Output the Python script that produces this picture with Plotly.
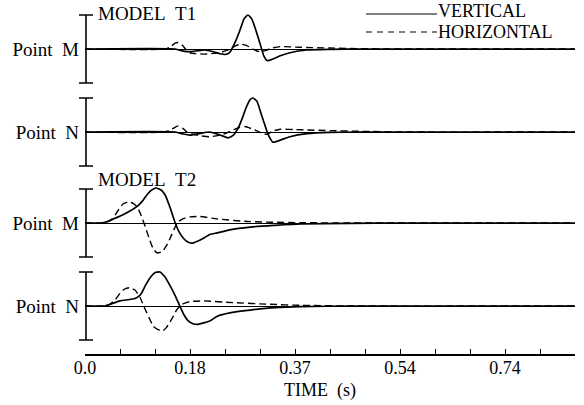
import plotly.graph_objects as go

# ---------------- data (time in s, amplitude in bar units: bar = +/-1) ----------------
T1_M_V_t = [0.0, 0.159, 0.173, 0.185, 0.199, 0.211, 0.226, 0.238, 0.248, 0.255, 0.264, 0.273, 0.280, 0.287, 0.294, 0.301, 0.308, 0.315, 0.321, 0.330, 0.344, 0.361, 0.391, 0.432, 0.485, 0.863]
T1_M_V   = [0.0, 0.0, -0.06, -0.08, -0.05, -0.03, -0.08, -0.14, -0.16, -0.10, 0.18, 0.55, 0.88, 1.0, 0.88, 0.55, 0.18, -0.20, -0.34, -0.30, -0.20, -0.11, -0.03, -0.01, 0.0, 0.0]
T1_M_H_t = [0.0, 0.141, 0.150, 0.159, 0.164, 0.171, 0.178, 0.185, 0.199, 0.211, 0.226, 0.241, 0.255, 0.266, 0.275, 0.285, 0.298, 0.308, 0.319, 0.330, 0.344, 0.379, 0.432, 0.485, 0.540, 0.863]
T1_M_H   = [0.0, 0.0, 0.06, 0.17, 0.19, 0.12, -0.02, -0.11, -0.14, -0.15, -0.13, -0.09, -0.01, 0.10, 0.14, 0.10, -0.02, -0.08, -0.04, 0.03, 0.07, 0.05, 0.03, 0.01, 0.0, 0.0]

T1_N_V_t = [0.0, 0.159, 0.173, 0.185, 0.203, 0.220, 0.238, 0.252, 0.261, 0.270, 0.277, 0.284, 0.291, 0.296, 0.303, 0.310, 0.317, 0.322, 0.331, 0.344, 0.361, 0.391, 0.432, 0.485, 0.863]
T1_N_V   = [0.0, 0.0, -0.06, -0.09, -0.04, 0.0, -0.09, -0.17, -0.10, 0.12, 0.40, 0.72, 0.95, 1.0, 0.90, 0.55, 0.20, -0.05, -0.30, -0.24, -0.14, -0.05, -0.01, 0.0, 0.0]
T1_N_H_t = [0.0, 0.141, 0.153, 0.164, 0.173, 0.180, 0.189, 0.203, 0.220, 0.243, 0.261, 0.273, 0.282, 0.293, 0.303, 0.314, 0.321, 0.331, 0.344, 0.370, 0.391, 0.432, 0.485, 0.555, 0.863]
T1_N_H   = [0.0, 0.0, 0.08, 0.18, 0.10, -0.01, -0.06, -0.11, -0.14, -0.07, 0.06, 0.14, 0.16, 0.10, 0.03, -0.05, -0.07, 0.03, 0.08, 0.07, 0.06, 0.04, 0.02, 0.0, 0.0]

T2_M_V_t = [0.0, 0.030, 0.041, 0.053, 0.067, 0.079, 0.092, 0.100, 0.107, 0.116, 0.125, 0.134, 0.141, 0.150, 0.159, 0.166, 0.173, 0.181, 0.189, 0.203, 0.220, 0.233, 0.255, 0.291, 0.335, 0.379, 0.467, 0.555, 0.863]
T2_M_V   = [0.0, 0.0, 0.05, 0.14, 0.24, 0.35, 0.49, 0.62, 0.78, 0.95, 1.03, 0.97, 0.83, 0.45, 0.0, -0.27, -0.44, -0.56, -0.59, -0.50, -0.34, -0.29, -0.20, -0.12, -0.07, -0.03, -0.01, 0.0, 0.0]
T2_M_H_t = [0.0, 0.030, 0.041, 0.049, 0.058, 0.067, 0.076, 0.085, 0.092, 0.099, 0.106, 0.113, 0.120, 0.127, 0.136, 0.143, 0.150, 0.157, 0.164, 0.173, 0.185, 0.203, 0.233, 0.291, 0.379, 0.467, 0.863]
T2_M_H   = [0.0, 0.0, 0.05, 0.13, 0.36, 0.56, 0.62, 0.58, 0.47, 0.22, -0.10, -0.45, -0.75, -0.88, -0.84, -0.68, -0.45, -0.18, 0.03, 0.13, 0.18, 0.19, 0.12, 0.04, 0.01, 0.0, 0.0]

T2_N_V_t = [0.0, 0.035, 0.044, 0.062, 0.088, 0.097, 0.100, 0.107, 0.115, 0.123, 0.132, 0.141, 0.150, 0.159, 0.167, 0.174, 0.181, 0.190, 0.199, 0.220, 0.233, 0.255, 0.291, 0.335, 0.379, 0.467, 0.863]
T2_N_V   = [0.0, 0.0, 0.05, 0.15, 0.22, 0.32, 0.39, 0.62, 0.84, 0.98, 1.0, 0.85, 0.59, 0.30, 0.0, -0.25, -0.42, -0.52, -0.54, -0.44, -0.30, -0.20, -0.12, -0.05, -0.02, 0.0, 0.0]
T2_N_H_t = [0.0, 0.035, 0.044, 0.053, 0.062, 0.070, 0.079, 0.088, 0.097, 0.106, 0.115, 0.120, 0.127, 0.136, 0.144, 0.153, 0.162, 0.171, 0.185, 0.208, 0.261, 0.326, 0.379, 0.467, 0.863]
T2_N_H   = [0.0, 0.0, 0.05, 0.18, 0.38, 0.50, 0.54, 0.47, 0.25, -0.10, -0.42, -0.59, -0.68, -0.74, -0.62, -0.38, -0.10, 0.05, 0.13, 0.15, 0.10, 0.05, 0.02, 0.0, 0.0]

PANEL_LABELS = ["Point\u00a0\u00a0M", "Point\u00a0\u00a0N", "Point\u00a0\u00a0M", "Point\u00a0\u00a0N"]
MODEL_LABELS = ["MODEL\u00a0\u00a0T1", "MODEL\u00a0\u00a0T2"]
LEGEND_LABELS = ["VERTICAL", "HORIZONTAL"]
TICK_VALS = [0.0, 0.185, 0.37, 0.555, 0.74]
TICK_TEXT = ["0.0", "0.18", "0.37", "0.54", "0.74"]
X_MAX = 0.8633
X_TITLE = "TIME\u00a0\u00a0(s)"

# ---------------- layout geometry (pixels) ----------------
W, H = 584, 405
ML, MR, MT, MB = 85, 9, 0, 50
PW, PH = W - ML - MR, H - MT - MB
FONT = "Liberation Serif"
FS = 19
XFS = 18

def px2x(px):
    return (px - ML) / PW

def py2y(py):
    return (H - MB - py) / PH

ZEROS = [49, 132, 223, 306]   # pixel row of each panel's zero line
HALF = 34                      # pixels per unit amplitude
YR = 1.1

series = [
    (T1_M_V_t, T1_M_V, T1_M_H_t, T1_M_H),
    (T1_N_V_t, T1_N_V, T1_N_H_t, T1_N_H),
    (T2_M_V_t, T2_M_V, T2_M_H_t, T2_M_H),
    (T2_N_V_t, T2_N_V, T2_N_H_t, T2_N_H),
]

fig = go.Figure()
layout = dict(
    width=W, height=H,
    margin=dict(l=ML, r=MR, t=MT, b=MB, pad=0),
    paper_bgcolor="white", plot_bgcolor="white",
    showlegend=False,
    font=dict(family=FONT, size=FS, color="black"),
    xaxis=dict(
        range=[0, X_MAX], anchor="free", position=0,
        showline=True, linecolor="black", linewidth=1.5,
        showgrid=False, zeroline=False,
        tickmode="array", tickvals=TICK_VALS, ticktext=TICK_TEXT,
        ticks="inside", ticklen=5, tickwidth=1.2, tickcolor="black",
        minor=dict(dtick=0.185 / 3, tick0=0, ticks="inside", ticklen=5,
                   tickwidth=1.2, tickcolor="black", showgrid=False),
        tickfont=dict(family=FONT, size=XFS, color="black"),
        ticklabelstandoff=-3,
    ),
)

shapes = []
cap = 7  # half cap width in px
for i, (tv, v, th, h) in enumerate(series):
    yname = "y" if i == 0 else f"y{i+1}"
    lname = "yaxis" if i == 0 else f"yaxis{i+1}"
    z = ZEROS[i]
    dom = [py2y(z + HALF * YR), py2y(z - HALF * YR)]
    layout[lname] = dict(
        domain=dom, range=[-YR, YR], anchor="x",
        showgrid=False, showline=False,
        zeroline=True, zerolinecolor="black", zerolinewidth=1,
        tickmode="array", tickvals=[0], ticktext=[PANEL_LABELS[i]],
        ticks="", ticklabelstandoff=5,
        tickfont=dict(family=FONT, size=FS, color="black"),
        fixedrange=True,
    )
    fig.add_trace(go.Scatter(x=th, y=h, xaxis="x", yaxis=yname, mode="lines",
                             line=dict(color="black", width=1.4, dash="7px,4px",
                                       shape="spline", smoothing=0.5),
                             name=LEGEND_LABELS[1]))
    fig.add_trace(go.Scatter(x=tv, y=v, xaxis="x", yaxis=yname, mode="lines",
                             line=dict(color="black", width=1.7,
                                       shape="spline", smoothing=0.5),
                             name=LEGEND_LABELS[0]))
    # I-beam amplitude bar
    shapes.append(dict(type="line", xref="paper", yref=yname,
                       x0=px2x(86), x1=px2x(86), y0=-1, y1=1,
                       line=dict(color="black", width=1.6)))
    for yy in (-1, 1):
        shapes.append(dict(type="line", xref="paper", yref=yname,
                           x0=px2x(86 - cap), x1=px2x(86 + cap), y0=yy, y1=yy,
                           line=dict(color="black", width=1.6)))

# legend drawn manually (long line samples)
shapes.append(dict(type="line", xref="paper", yref="paper",
                   x0=px2x(366), x1=px2x(437), y0=py2y(14), y1=py2y(14),
                   line=dict(color="black", width=1.2)))
shapes.append(dict(type="line", xref="paper", yref="paper",
                   x0=px2x(366), x1=px2x(437), y0=py2y(32), y1=py2y(32),
                   line=dict(color="black", width=1.2, dash="6px,5px")))

LFS = 18
annotations = [
    dict(text=MODEL_LABELS[0], xref="paper", yref="paper", x=px2x(96), y=py2y(14),
         xanchor="left", yanchor="middle", showarrow=False, font=dict(family=FONT, size=FS, color="black")),
    dict(text=MODEL_LABELS[1], xref="paper", yref="paper", x=px2x(96), y=py2y(179),
         xanchor="left", yanchor="middle", showarrow=False, font=dict(family=FONT, size=FS, color="black")),
    dict(text=LEGEND_LABELS[0], xref="paper", yref="paper", x=px2x(437), y=py2y(11.5),
         xanchor="left", yanchor="middle", showarrow=False, borderpad=0,
         font=dict(family=FONT, size=LFS, color="black")),
    dict(text=LEGEND_LABELS[1], xref="paper", yref="paper", x=px2x(437), y=py2y(32),
         xanchor="left", yanchor="middle", showarrow=False, borderpad=0,
         font=dict(family=FONT, size=LFS, color="black")),
    dict(text=X_TITLE, xref="paper", yref="paper", x=px2x(320), y=py2y(390),
         xanchor="center", yanchor="middle", showarrow=False, borderpad=0,
         font=dict(family=FONT, size=XFS, color="black")),
]
layout["shapes"] = shapes
layout["annotations"] = annotations
fig.update_layout(**layout)
fig.write_html("out.html", config={"displayModeBar": False})
